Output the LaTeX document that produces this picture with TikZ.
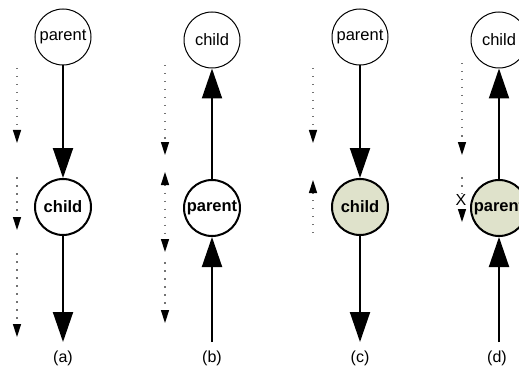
\documentclass[tikz,border=0pt]{standalone}
\usepackage{fontspec}
\setmainfont{Liberation Sans}
\usetikzlibrary{arrows.meta}
\definecolor{visited}{HTML}{DFE2CB}
\tikzset{
    vertex/.style={draw, circle, minimum size=56pt, inner sep=0pt, line width=1pt,
        font=\fontsize{16.5}{19}\selectfont},
    current/.style={vertex, line width=2pt, font=\fontsize{16.5}{19}\selectfont\bfseries},
    edge/.style={line width=2pt, -{Triangle[width=20pt,length=30pt]}},
    walk/.style={black!55, line width=1.5pt, dash pattern=on 1.5pt off 6.5pt,
        -{Triangle[width=8pt,length=13pt,black]}},
    caption/.style={font=\fontsize{16}{19}\selectfont}
}
\begin{document}
\begin{tikzpicture}[x=1pt, y=-1pt]
    \useasboundingbox (0,0) rectangle (519,385);
    \clip (0,0) rectangle (519,385);

    % (a) parent -> child
    \node[vertex] (aP) at (63,37) {parent};
    \node[current] (aC) at (63,207) {child};
    \coordinate (aE) at (63,342);
    \draw[edge] (aP) -- (aC);
    \draw[edge] (aC) -- (aE);
    \coordinate (a1) at (17,68);  \coordinate (a2) at (17,143);
    \coordinate (a3) at (17,177); \coordinate (a4) at (17,230);
    \coordinate (a5) at (17,253); \coordinate (a6) at (17,337);
    \draw[walk] (a1) -- (a2);
    \draw[walk] (a3) -- (a4);
    \draw[walk] (a5) -- (a6);
    \node[caption] (aL) at (63,358) {(a)};

    % (b) child <- parent
    \node[vertex] (bC) at (212,40) {child};
    \node[current] (bP) at (212,208) {parent};
    \coordinate (bS) at (212,342);
    \draw[edge] (bP) -- (bC);
    \draw[edge] (bS) -- (bP);
    \coordinate (b1) at (165,65);  \coordinate (b2) at (165,155);
    \coordinate (b3) at (165,172); \coordinate (b4) at (165,252);
    \coordinate (b5) at (165,262); \coordinate (b6) at (165,323);
    \draw[walk] (b1) -- (b2);
    \draw[walk, {Triangle[width=8pt,length=13pt,black]}-{Triangle[width=8pt,length=13pt,black]}] (b3) -- (b4);
    \draw[walk] (b5) -- (b6);
    \node[caption] (bL) at (212,358) {(b)};

    % (c) visited child
    \node[vertex] (cP) at (360,37) {parent};
    \node[current, fill=visited] (cC) at (360,207) {child};
    \coordinate (cE) at (360,342);
    \draw[edge] (cP) -- (cC);
    \draw[edge] (cC) -- (cE);
    \coordinate (c1) at (313,68);  \coordinate (c2) at (313,143);
    \coordinate (c3) at (313,233); \coordinate (c4) at (313,180);
    \draw[walk] (c1) -- (c2);
    \draw[walk] (c3) -- (c4);
    \node[caption] (cL) at (360,358) {(c)};

    % (d) visited parent
    \node[vertex] (dC) at (499,40) {child};
    \node[current, fill=visited] (dP) at (499,208) {parent};
    \coordinate (dS) at (499,342);
    \draw[edge] (dP) -- (dC);
    \draw[edge] (dS) -- (dP);
    \coordinate (d1) at (462,63);  \coordinate (d2) at (462,155);
    \coordinate (d3) at (462,177); \coordinate (d4) at (462,222);
    \draw[walk] (d1) -- (d2);
    \draw[walk] (d3) -- (d4);
    \node[fill=white, inner sep=0.5pt, font=\fontsize{16}{18}\selectfont] (dX) at (461,200) {X};
    \node[caption] (dL) at (497,358) {(d)};
\end{tikzpicture}
\end{document}
